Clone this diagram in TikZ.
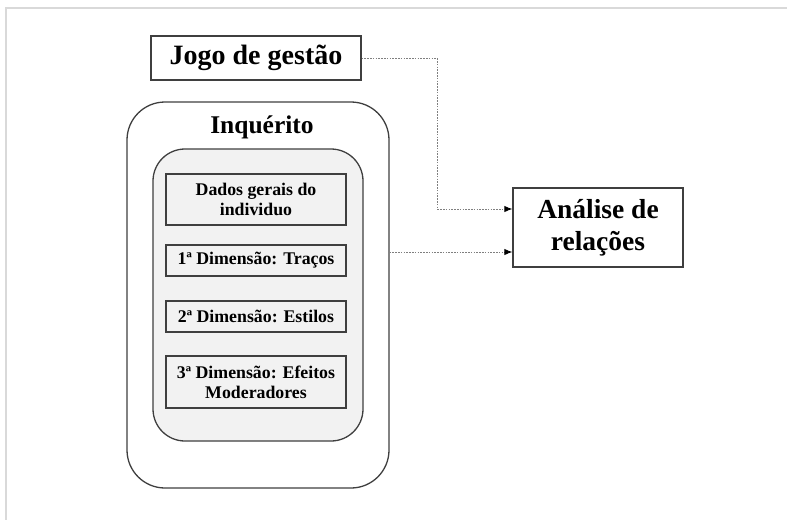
\documentclass[tikz,border=0pt]{standalone}
\usepackage{fontspec}
\setmainfont{Liberation Serif}
\usetikzlibrary{arrows.meta}
\definecolor{linegray}{HTML}{3F3F3F}
\definecolor{boxfill}{HTML}{F2F2F2}
\definecolor{framegray}{HTML}{D9D9D9}
\definecolor{dashgray}{HTML}{7F7F7F}

\begin{document}
\begin{tikzpicture}[x=1pt,y=-1pt]
	\tikzstyle{every node}+=[inner sep=0pt]
	\tikzstyle{box}=[draw=linegray, line width=1.3pt, fill=boxfill, minimum width=180pt, align=center, font=\fontsize{17.8}{20}\selectfont\bfseries]
	\tikzstyle{link}=[draw=dashgray, line width=0.9pt, dash pattern=on 1.6pt off 1.2pt, -{Latex[black,length=8pt,width=6.5pt]}]
	\useasboundingbox (0,0) rectangle (787,520);
	\draw [framegray, line width=1.2pt] (787,8) -- (6,8) -- (6,520);
	\node [draw=linegray, line width=1.3pt, minimum width=210pt, minimum height=44pt, font=\fontsize{28}{30}\selectfont\bfseries] (jogo) at (256,58) {Jogo de gestão};
	\node [draw=linegray, line width=1.3pt, rounded corners=38pt, minimum width=262pt, minimum height=386pt] (inq) at (258,295) {};
	\node [font=\fontsize{25.5}{28}\selectfont\bfseries] (titulo) at (262,127) {Inquérito};
	\node [draw=linegray, line width=1.3pt, fill=boxfill, rounded corners=32pt, minimum width=210pt, minimum height=292pt] (blocos) at (258,295) {};
	\node [box, minimum height=51pt] (dados) at (256,199.5) {Dados gerais do\\individuo};
	\node [box, minimum height=31pt] (dim1) at (256,260.5) {1ª Dimensão: Traços};
	\node [box, minimum height=31pt] (dim2) at (256,316.5) {2ª Dimensão: Estilos};
	\node [box, minimum height=52pt] (dim3) at (256,382) {3ª Dimensão: Efeitos\\Moderadores};
	\node [draw=linegray, line width=1.3pt, minimum width=170pt, minimum height=79pt, align=center, font=\fontsize{27.5}{32}\selectfont\bfseries] (analise) at (598,227.5) {Análise de\\relações};
	\coordinate (canto) at (437,209);
	\draw [link] (jogo.east) -| (canto) -- (canto -| analise.west);
	\draw [link] ([yshift=43pt]inq.east) coordinate (saida) -- (saida -| analise.west);
\end{tikzpicture}
\end{document}
